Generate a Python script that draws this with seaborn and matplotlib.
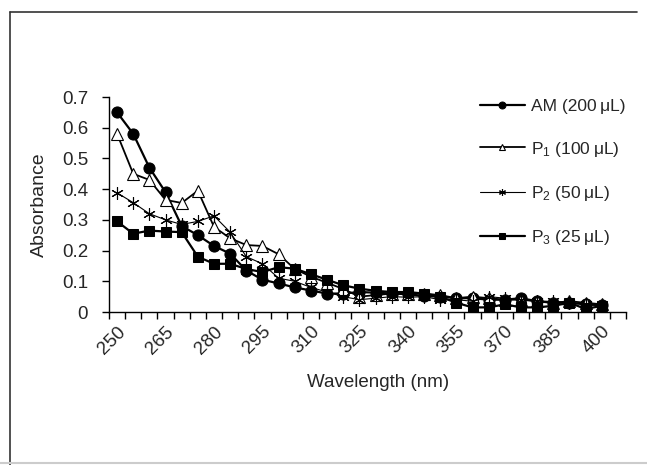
import numpy as np
import pandas as pd
import seaborn as sns
import matplotlib.pyplot as plt
from matplotlib.lines import Line2D

# wavelength categories (nm), one point every 5 nm
wavelength = [250, 255, 260, 265, 270, 275, 280, 285, 290, 295, 300,
              305, 310, 315, 320, 325, 330, 335, 340, 345, 350,
              355, 360, 365, 370, 375, 380, 385, 390, 395, 400]

am_200 = [0.65, 0.58, 0.47, 0.39, 0.28, 0.25, 0.215, 0.19, 0.135, 0.105, 0.093,
          0.08, 0.07, 0.06, 0.06, 0.065, 0.063, 0.06, 0.058, 0.052, 0.05,
          0.045, 0.045, 0.04, 0.04, 0.045, 0.035, 0.03, 0.03, 0.025, 0.022]
p1_100 = [0.58, 0.45, 0.43, 0.365, 0.355, 0.395, 0.277, 0.24, 0.218, 0.215, 0.188,
          0.14, 0.115, 0.095, 0.075, 0.05, 0.055, 0.06, 0.06, 0.06, 0.055,
          0.045, 0.05, 0.045, 0.04, 0.04, 0.035, 0.03, 0.035, 0.03, 0.025]
p2_50 = [0.388, 0.356, 0.32, 0.3, 0.285, 0.295, 0.313, 0.26, 0.18, 0.157, 0.11,
         0.1, 0.08, 0.065, 0.05, 0.04, 0.045, 0.05, 0.048, 0.05, 0.04,
         0.04, 0.035, 0.05, 0.045, 0.04, 0.035, 0.035, 0.03, 0.025, 0.02]
p3_25 = [0.295, 0.255, 0.265, 0.262, 0.26, 0.18, 0.157, 0.157, 0.14, 0.13, 0.146,
         0.141, 0.123, 0.105, 0.087, 0.076, 0.069, 0.065, 0.065, 0.06, 0.05,
         0.03, 0.015, 0.015, 0.025, 0.015, 0.015, 0.02, 0.03, 0.01, 0.02]

labels = ["AM (200\u2009\u03bcL)", "P$_1$ (100\u2009\u03bcL)",
          "P$_2$ (50\u2009\u03bcL)", "P$_3$ (25\u2009\u03bcL)"]
x_labels = [250, 265, 280, 295, 310, 325, 340, 355, 370, 385, 400]

sns.set_style('white')
plt.rcParams['font.family'] = ['Liberation Sans', 'DejaVu Sans']
plt.rcParams['mathtext.fontset'] = 'custom'
plt.rcParams['mathtext.rm'] = 'Liberation Sans'
plt.rcParams['mathtext.it'] = 'Liberation Sans:italic'

df = pd.DataFrame({'Wavelength': wavelength, 'AM': am_200, 'P1': p1_100,
                   'P2': p2_50, 'P3': p3_25})

fig = plt.figure(figsize=(6.47, 4.65), dpi=100)
ax = fig.add_axes([109/647, 1-312/465, 517/647, 215/465])

styles = [
    ('AM', dict(marker='o', markersize=8, lw=1.6, markerfacecolor='black')),
    ('P1', dict(marker='^', markersize=9, lw=1.3, markerfacecolor='white',
                markeredgewidth=0.8)),
    ('P2', dict(marker=(6, 2, 0), markersize=9, lw=0.8, markeredgewidth=0.8)),
    ('P3', dict(marker='s', markersize=7.5, lw=1.6, markerfacecolor='black')),
]
for (col, kw), lab in zip(styles, labels):
    sns.lineplot(data=df, x='Wavelength', y=col, ax=ax, color='black',
                 markeredgecolor='black', label=lab, **kw)

ax.set_xlim(247.5, 407.5)
ax.set_ylim(0, 0.7)
ax.set_yticks(np.arange(0, 0.71, 0.1))
ax.set_yticklabels(['0', '0.1', '0.2', '0.3', '0.4', '0.5', '0.6', '0.7'])
ax.set_xticks(x_labels)
ax.set_xticklabels([str(v) for v in x_labels], rotation=45, ha='right',
                   rotation_mode='anchor')
ax.set_xticks(np.arange(247.5, 408, 5), minor=True)
ax.tick_params(axis='x', which='major', length=0, labelsize=13.5, pad=8)
ax.tick_params(axis='x', which='minor', length=5, width=1, direction='out',
               bottom=True, color='black')
ax.tick_params(axis='y', length=5, width=1, direction='out', left=True,
               labelsize=13.5, pad=10, color='black')

for s in ['top', 'right']:
    ax.spines[s].set_visible(False)
for s in ['left', 'bottom']:
    ax.spines[s].set_color('black')
    ax.spines[s].set_linewidth(1)

ax.set_xlabel("Wavelength (nm)", fontsize=13.5)
ax.xaxis.set_label_coords(0.52, -0.29)
ax.set_ylabel("Absorbance", fontsize=14)
ax.yaxis.set_label_coords(-0.118, 0.5)

leg = ax.legend(loc='upper left', bbox_to_anchor=(0.70, 1.03), frameon=False,
                fontsize=12.5, handlelength=2.6, labelspacing=1.45,
                handletextpad=0.35, borderpad=0)
for h in leg.legend_handles:
    h.set_markersize(5)

# outer frame of the picture
fig.add_artist(Line2D([10/647, 637/647], [1-12/465, 1-12/465], color='#333333', lw=1.2))
fig.add_artist(Line2D([10/647, 10/647], [1-12/465, 0], color='#333333', lw=1.2))
fig.add_artist(Line2D([0, 1], [1-463/465, 1-463/465], color='#cccccc', lw=1.5))

fig.savefig('out.png', dpi=100)
